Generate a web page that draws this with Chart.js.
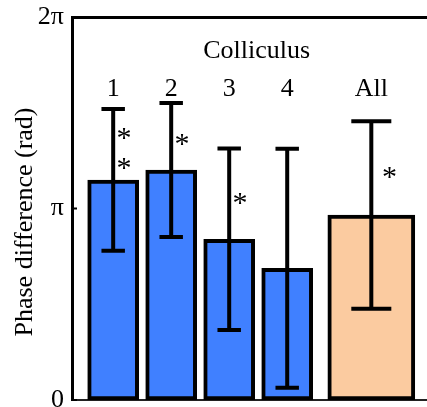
<!DOCTYPE html>
<html>
<head>
<meta charset="utf-8">
<script src="https://cdn.jsdelivr.net/npm/chart.js@4"></script>
<style>
  html, body { margin: 0; padding: 0; background: #fff; overflow: hidden; }
  #wrap { width: 427px; height: 407px; }
</style>
</head>
<body>
<div id="wrap"><canvas id="c" width="427" height="407"></canvas></div>
<script>
// Mean phase difference per colliculus (in units of π) and the pooled value
const groups = ['1', '2', '3', '4', 'All'];
const groupX = [1, 2, 3, 4, 5.45];
const meanPhase = [1.149, 1.201, 0.839, 0.688, 0.966];
const phaseError = [0.37, 0.35, 0.474, 0.624, 0.49];
const starCount = [2, 1, 1, 0, 1];
const yTickLabels = ['0', 'π', '2π'];
const headerTitle = 'Colliculus';
const yTitle = 'Phase difference (rad)';
const colliculusIdx = [0, 1, 2, 3];
const pooledIdx = [4];

const SERIF = '"Liberation Serif", "Times New Roman", serif';

function pointsFor(idx) {
  return idx.map(i => ({ x: groupX[i], y: meanPhase[i] }));
}

// Error bars, significance stars, in-plot labels and the rotated axis title
const decor = {
  id: 'decor',
  afterDatasetsDraw(chart) {
    const { ctx, scales: { y } } = chart;
    ctx.save();
    chart.data.datasets.forEach((ds, di) => {
      chart.getDatasetMeta(di).data.forEach((bar, j) => {
        const i = ds.groupIndex[j];
        const cx = bar.x, w = bar.width;
        const yHi = y.getPixelForValue(meanPhase[i] + phaseError[i]);
        const yLo = y.getPixelForValue(meanPhase[i] - phaseError[i]);
        const cap = w * 0.46;
        ctx.strokeStyle = '#000';
        ctx.lineWidth = 4;
        ctx.lineCap = 'butt';
        ctx.beginPath();
        ctx.moveTo(cx, yHi); ctx.lineTo(cx, yLo);
        ctx.moveTo(cx - cap / 2, yHi); ctx.lineTo(cx + cap / 2, yHi);
        ctx.moveTo(cx - cap / 2, yLo); ctx.lineTo(cx + cap / 2, yLo);
        ctx.stroke();

        const n = starCount[i];
        if (n) {
          ctx.font = '30px ' + SERIF;
          ctx.fillStyle = '#000';
          ctx.textAlign = 'center';
          ctx.textBaseline = 'alphabetic';
          const m = ctx.measureText('*');
          const mid = y.getPixelForValue(meanPhase[i] + 0.45 * phaseError[i]);
          const sx = cx + 0.21 * w;
          for (let k = 0; k < n; k++) {
            const sy = mid + (k - (n - 1) / 2) * 30;
            ctx.fillText('*', sx, sy + (m.actualBoundingBoxAscent - m.actualBoundingBoxDescent) / 2);
          }
        }
      });
    });
    ctx.restore();
  },
  afterDraw(chart) {
    const { ctx, chartArea: a, scales: { y } } = chart;
    ctx.save();
    ctx.fillStyle = '#000';
    ctx.font = '26px ' + SERIF;
    ctx.textAlign = 'center';
    ctx.textBaseline = 'alphabetic';
    ctx.fillText(headerTitle, a.left + 0.52 * a.width, a.top + 41);
    chart.data.datasets.forEach((ds, di) => {
      chart.getDatasetMeta(di).data.forEach((bar, j) => {
        ctx.fillText(groups[ds.groupIndex[j]], bar.x, a.top + 79);
      });
    });

    // short inward tick marks on the value axis
    ctx.strokeStyle = '#000';
    ctx.lineWidth = 2;
    y.ticks.forEach(t => {
      const py = y.getPixelForValue(t.value);
      ctx.beginPath();
      ctx.moveTo(a.left, py);
      ctx.lineTo(a.left + 5, py);
      ctx.stroke();
    });

    ctx.translate(32, (a.top + a.bottom) / 2 + 13.5);
    ctx.rotate(-Math.PI / 2);
    ctx.fillText(yTitle, 0, 0);
    ctx.restore();
  }
};

new Chart(document.getElementById('c'), {
  type: 'bar',
  data: {
    datasets: [
      {
        label: 'Colliculi',
        data: pointsFor(colliculusIdx),
        groupIndex: colliculusIdx,
        backgroundColor: '#4080ff',
        barThickness: 51
      },
      {
        label: 'All',
        data: pointsFor(pooledIdx),
        groupIndex: pooledIdx,
        backgroundColor: '#fbcba0',
        barThickness: 87
      }
    ]
  },
  options: {
    responsive: false,
    animation: false,
    devicePixelRatio: 1,
    layout: { padding: 0 },
    plugins: { legend: { display: false }, tooltip: { enabled: false } },
    datasets: {
      bar: { grouped: false, borderColor: '#000', borderWidth: 4, borderSkipped: false }
    },
    scales: {
      x: {
        type: 'linear', min: 0.29, max: 6.41, offset: false,
        ticks: { display: false },
        grid: { display: false, drawTicks: false, offset: false },
        border: { display: true, color: '#222', width: 2 },
        afterFit: s => { s.height = 7; s.paddingLeft = 0; s.paddingRight = 0; }
      },
      xTop: {
        type: 'linear', position: 'top', min: 0.29, max: 6.41, offset: false,
        ticks: { display: false },
        grid: { display: false, drawTicks: false, offset: false },
        border: { display: true, color: '#000', width: 3 },
        afterFit: s => { s.height = 17; s.paddingLeft = 0; s.paddingRight = 0; }
      },
      y: {
        min: 0, max: 2,
        ticks: {
          stepSize: 1,
          callback: v => yTickLabels[v],
          font: { family: SERIF, size: 26 },
          color: '#000',
          padding: 8
        },
        grid: { display: false, drawTicks: false },
        border: { display: true, color: '#000', width: 3 },
        afterFit: s => { s.width = 72; s.paddingTop = 0; s.paddingBottom = 0; }
      }
    }
  },
  plugins: [decor]
});
</script>
</body>
</html>
